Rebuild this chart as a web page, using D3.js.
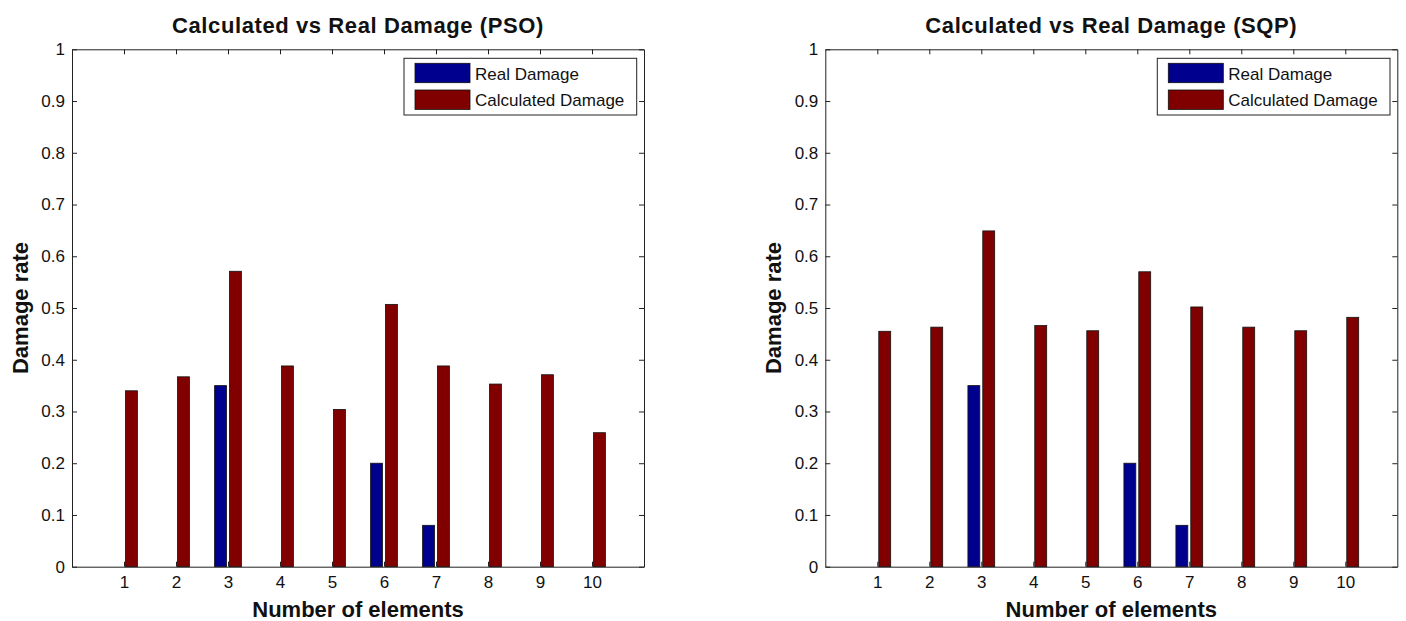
<!DOCTYPE html>
<html>
<head>
<meta charset="utf-8">
<script src="https://cdn.jsdelivr.net/npm/d3@7"></script>
<style>
  body { margin: 0; background: #fff; }
  #display svg { display: block; }
  .axis text { font-family: "Liberation Sans", Arial, sans-serif; font-size: 17px; fill: #111; }
  .axis path, .axis line { stroke: #222; }
</style>
</head>
<body>
<div id="display"></div>
<script>
// data
const elements = [1, 2, 3, 4, 5, 6, 7, 8, 9, 10];
const realDamage = [0, 0, 0.35, 0, 0, 0.2, 0.08, 0, 0, 0];
const psoCalculated = [0.34, 0.367, 0.571, 0.388, 0.304, 0.507, 0.388, 0.353, 0.371, 0.259];
const sqpCalculated = [0.455, 0.463, 0.649, 0.466, 0.456, 0.57, 0.502, 0.463, 0.456, 0.482];
const yTicks = [0, 0.1, 0.2, 0.3, 0.4, 0.5, 0.6, 0.7, 0.8, 0.9, 1];
const seriesNames = ['Real Damage', 'Calculated Damage'];
const seriesColors = ['#00008f', '#800000'];
const titles = ['Calculated vs Real Damage (PSO)', 'Calculated vs Real Damage (SQP)'];

const svgWidth = 1406, svgHeight = 621;

let svgRoot = d3.select('#display')
    .append('svg')
        .attr('width', svgWidth)
        .attr('height', svgHeight);

function BarChart(left, title, calculated) {
    let obj = {};

    // axes box, in pixels
    let top = 49.3;
    let width = 572;
    let height = 517.4;
    let svg, xScale, yScale;

    obj.SetDisplay = () => {
        svg = svgRoot.append('g')
            .attr('transform', 'translate(' + left + ',' + top + ')');
    }

    obj.SetScales = () => {
        xScale = d3.scaleLinear()
            .domain([0, 11])
            .range([0, width]);
        yScale = d3.scaleLinear()
            .domain([0, 1])
            .range([height, 0]);

        // ticks point inwards, like matlab
        svg.append('g')
            .attr('class', 'axis')
            .attr('transform', 'translate(0,' + height + ')')
            .call(d3.axisBottom(xScale).tickValues(elements)
                .tickSizeInner(-5).tickSizeOuter(0).tickPadding(9));
        svg.append('g')
            .attr('class', 'axis')
            .call(d3.axisTop(xScale).tickValues(elements)
                .tickSizeInner(-5).tickSizeOuter(0).tickFormat(''));
        svg.append('g')
            .attr('class', 'axis')
            .call(d3.axisLeft(yScale).tickValues(yTicks)
                .tickSizeInner(-5).tickSizeOuter(0).tickPadding(7)
                .tickFormat(d => d3.format('~g')(d)));
        svg.append('g')
            .attr('class', 'axis')
            .attr('transform', 'translate(' + width + ',0)')
            .call(d3.axisRight(yScale).tickValues(yTicks)
                .tickSizeInner(-5).tickSizeOuter(0).tickFormat(''));
    }

    obj.update = () => {
        // grouped bars: matlab puts 2 series at +-0.143 with width 0.229
        let offsets = [-0.143, 0.143];
        let barW = 0.229;
        let series = [realDamage, calculated];

        series.forEach((values, s) => {
            svg.append('g')
                .selectAll('rect')
                .data(values.map((v, i) => ({x: elements[i], v: v})))
                .join('rect')
                    .attr('x', d => xScale(d.x + offsets[s] - barW / 2))
                    .attr('width', xScale(barW) - xScale(0))
                    .attr('y', d => yScale(d.v))
                    .attr('height', d => yScale(0) - yScale(d.v))
                    .style('fill', seriesColors[s])
                    .style('stroke', '#111')
                    .style('stroke-width', 0.8);
        });

        // legend box in the upper right corner
        let legend = svg.append('g')
            .attr('transform', 'translate(' + (width - 7.3 - 232.7) + ',9)');
        legend.append('rect')
            .attr('width', 232.7)
            .attr('height', 56.7)
            .style('fill', '#fff')
            .style('stroke', '#222');
        seriesNames.forEach((name, s) => {
            legend.append('rect')
                .attr('x', 11)
                .attr('y', 5 + s * 26.7)
                .attr('width', 55)
                .attr('height', 19.4)
                .style('fill', seriesColors[s])
                .style('stroke', '#111')
                .style('stroke-width', 0.8);
            legend.append('text')
                .attr('x', 71)
                .attr('y', 21.5 + s * 26.7)
                .style('font-family', '"Liberation Sans", Arial, sans-serif')
                .style('font-size', '17px')
                .style('fill', '#111')
                .text(name);
        });

        svg.append('text')
            .attr('x', width / 2)
            .attr('y', 33 - top)
            .attr('text-anchor', 'middle')
            .style('font-family', '"Liberation Sans", Arial, sans-serif')
            .style('font-size', '22px')
            .style('font-weight', 'bold')
            .style('letter-spacing', '0.6px')
            .style('fill', '#111')
            .text(title);

        svg.append('text')
            .attr('x', width / 2)
            .attr('y', 617 - top)
            .attr('text-anchor', 'middle')
            .style('font-family', '"Liberation Sans", Arial, sans-serif')
            .style('font-size', '22px')
            .style('font-weight', 'bold')
            .style('fill', '#111')
            .text('Number of elements');

        svg.append('text')
            .attr('transform', 'translate(' + (-44) + ',' + (height / 2) + ') rotate(-90)')
            .attr('text-anchor', 'middle')
            .style('font-family', '"Liberation Sans", Arial, sans-serif')
            .style('font-size', '22px')
            .style('font-weight', 'bold')
            .style('fill', '#111')
            .text('Damage rate');
    }

    return obj;
}

let charts = [
    BarChart(72, titles[0], psoCalculated),
    BarChart(825.3, titles[1], sqpCalculated)
];
charts.forEach(c => {
    c.SetDisplay();
    c.SetScales();
    c.update();
});
</script>
</body>
</html>
